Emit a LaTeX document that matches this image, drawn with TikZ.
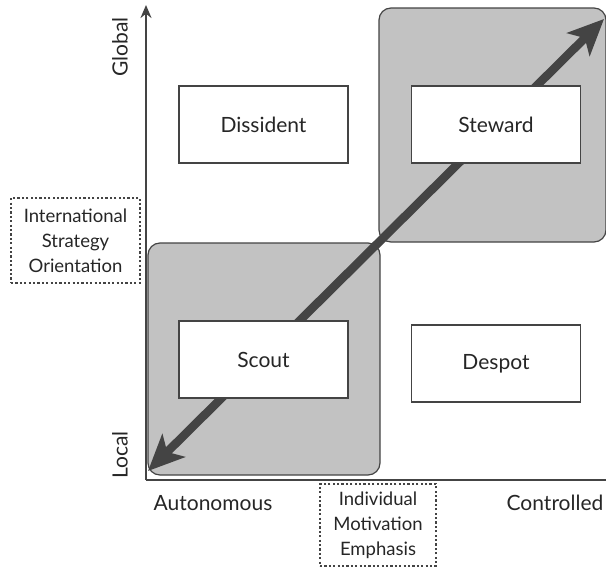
\documentclass[tikz,border=0pt]{standalone}
\usepackage{fontspec}
\setmainfont{Lato}
\usetikzlibrary{arrows.meta}
\definecolor{ink}{HTML}{444444}
\definecolor{shade}{HTML}{C2C2C2}
\tikzset{
  quad/.style={draw=ink, line width=1.2pt, fill=shade, rounded corners=12pt},
  rolebox/.style={draw=ink, line width=1.4pt, fill=white, minimum width=169pt, minimum height=77pt, font=\fontsize{21}{24}\selectfont, text=black!85},
  dotbox/.style={draw=ink, line width=1.6pt, dash pattern=on 2.2pt off 2.2pt, align=center, font=\fontsize{18.5}{25}\selectfont, text=black!85, inner sep=0pt},
  axislbl/.style={font=\fontsize{21}{24}\selectfont, text=black!85},
  axis/.style={draw=ink, line width=2.2pt},
  diag/.style={draw=ink, line width=8.5pt, {Stealth[length=36pt,width=32pt,inset=9pt]}-{Stealth[length=36pt,width=32pt,inset=9pt]}},
}
\begin{document}
\begin{tikzpicture}[x=1pt,y=-1pt]
\useasboundingbox (0,0) rectangle (606,568);
% shaded quadrants
\draw[quad] (148,243) rectangle (380,475);
\draw[quad] (379,8) rectangle (606,242);
% axes
\coordinate (o) at (146,480);
\coordinate (ytop) at (146,5);
\coordinate (xend) at (606,480);
\draw[axis,-{Stealth[length=13pt,width=11pt]}] (o) -- (ytop);
\draw[axis] (o) -- (xend);
% diagonal arrow
\coordinate (dlow) at (148,471);
\coordinate (dhigh) at (604,19);
\draw[diag] (dlow) -- (dhigh);
% role boxes
\node[rolebox] (dissident) at (263.5,124.5) {Dissident};
\node[rolebox] (steward) at (496,124.5) {Steward};
\node[rolebox] (scout) at (263.5,359.5) {Scout};
\node[rolebox] (despot) at (496,363.5) {Despot};
% axis labels
\node[axislbl, rotate=90] (global) at (120,47) {Global};
\node[axislbl, rotate=90] (local) at (120,455) {Local};
\node[axislbl] (auto) at (213,503) {Autonomous};
\node[axislbl] (ctrl) at (555,503) {Controlled};
\node[dotbox, minimum width=129pt, minimum height=85pt] (iso) at (75.5,240.5) {International\\Strategy\\Orientation};
\node[dotbox, minimum width=116pt, minimum height=82pt] (ime) at (378,525) {Individual\\Motivation\\Emphasis};
\end{tikzpicture}
\end{document}
